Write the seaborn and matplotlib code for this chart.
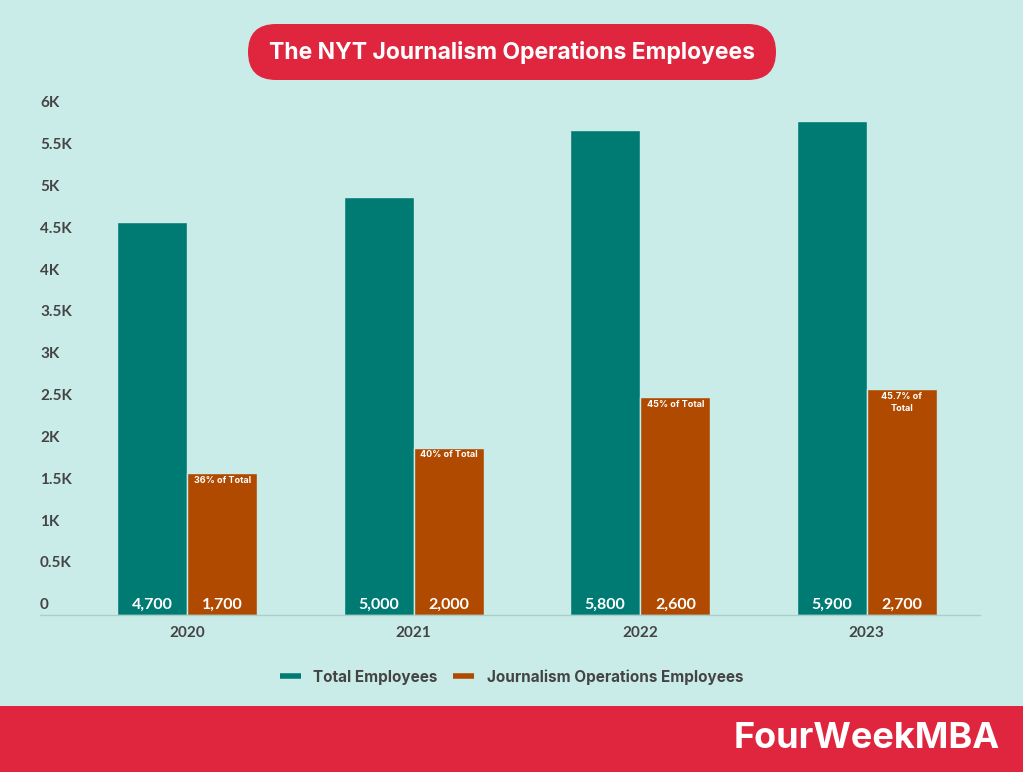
import matplotlib
matplotlib.use("Agg")
import matplotlib.pyplot as plt
from matplotlib.patches import FancyBboxPatch, Rectangle
from matplotlib.lines import Line2D
import seaborn as sns
import pandas as pd

years = ["2020", "2021", "2022", "2023"]
total = [4700, 5000, 5800, 5900]
journalism = [1700, 2000, 2600, 2700]
share_labels = ["36% of Total", "40% of Total", "45% of Total", "45.7% of\nTotal"]
series_names = ["Total Employees", "Journalism Operations Employees"]
yticks = [0, 500, 1000, 1500, 2000, 2500, 3000, 3500, 4000, 4500, 5000, 5500, 6000]
ytick_labels = ["0", "0.5K", "1K", "1.5K", "2K", "2.5K", "3K", "3.5K", "4K", "4.5K", "5K", "5.5K", "6K"]

bg = "#caece8"
teal = "#007b74"
orange = "#b04a00"
red = "#e0263f"
grey = "#444444"

sns.set_theme(style="white")
plt.rcParams["font.family"] = ["Lato", "DejaVu Sans"]
head_font = ["Inter", "DejaVu Sans"]

df = pd.DataFrame({
    "year": years * 2,
    "employees": total + journalism,
    "series": [series_names[0]] * 4 + [series_names[1]] * 4,
})

fig = plt.figure(figsize=(10.23, 7.72), dpi=100, facecolor=bg)

# decoration layer in pixel coords
deco = fig.add_axes([0, 0, 1, 1], zorder=0)
deco.set_xlim(0, 1023)
deco.set_ylim(0, 772)
deco.axis("off")
deco.add_patch(FancyBboxPatch((248, 772 - 80), 528, 56,
                              boxstyle="round,pad=0,rounding_size=28",
                              facecolor=red, edgecolor="none"))
deco.text(512, 772 - 52, "The NYT Journalism Operations Employees", color="white",
          fontsize=16.5, fontweight="bold", ha="center", va="center", family=head_font)
deco.add_patch(Rectangle((0, 0), 1023, 66, facecolor=red, edgecolor="none"))
deco.text(1000, 33, "FourWeekMBA", color="white", fontsize=26,
          fontweight="bold", ha="right", va="center", family=head_font)

ax = fig.add_axes([40 / 1023, 157 / 772, 940 / 1023, 502 / 772], zorder=1)
ax.set_facecolor("none")
sns.barplot(data=df, x="year", y="employees", hue="series",
            palette=[teal, orange], width=0.62, edgecolor=bg, linewidth=1,
            saturation=1, ax=ax, legend=False)

ax.set_xlim(-0.65, 3.5)
ax.set_ylim(0, 6000)
ax.set_xlabel("")
ax.set_ylabel("")
ax.set_yticks([])
for s in ["top", "right", "left"]:
    ax.spines[s].set_visible(False)
ax.spines["bottom"].set_color("#a9cfcb")
ax.spines["bottom"].set_linewidth(1)
ax.tick_params(axis="x", length=0, pad=8, labelsize=11, labelcolor=grey)
for lab in ax.get_xticklabels():
    lab.set_fontweight("bold")

for v, t in zip(yticks, ytick_labels):
    ax.annotate(t, (-0.65, v), xytext=(0, 7), textcoords="offset points",
                ha="left", va="center", fontsize=11, color=grey, fontweight="bold")

for bar, v in zip(ax.containers[0], total):
    ax.annotate(f"{v:,}", (bar.get_x() + bar.get_width() / 2, 0), xytext=(0, 7),
                textcoords="offset points", ha="center", va="center",
                color="white", fontsize=11.5, fontweight="bold")
for bar, v, s in zip(ax.containers[1], journalism, share_labels):
    cx = bar.get_x() + bar.get_width() / 2
    ax.annotate(f"{v:,}", (cx, 0), xytext=(0, 7),
                textcoords="offset points", ha="center", va="center",
                color="white", fontsize=11.5, fontweight="bold")
    ax.annotate(s, (cx, v), xytext=(0, -2), textcoords="offset points",
                ha="center", va="top", color="white", fontsize=6.5,
                fontweight="bold", linespacing=1.4, family=head_font)

handles = [Line2D([], [], color=teal, lw=4, solid_capstyle="butt"),
           Line2D([], [], color=orange, lw=4, solid_capstyle="butt")]
leg = fig.legend(handles, series_names, loc="center", bbox_to_anchor=(0.5, 1 - 677 / 772),
                 ncol=2, frameon=False, handlelength=1.4, handletextpad=0.8,
                 columnspacing=1.0, prop={"size": 11, "weight": "bold", "family": head_font})
for t in leg.get_texts():
    t.set_color(grey)

fig.savefig("out.png", dpi=100, facecolor=bg)
